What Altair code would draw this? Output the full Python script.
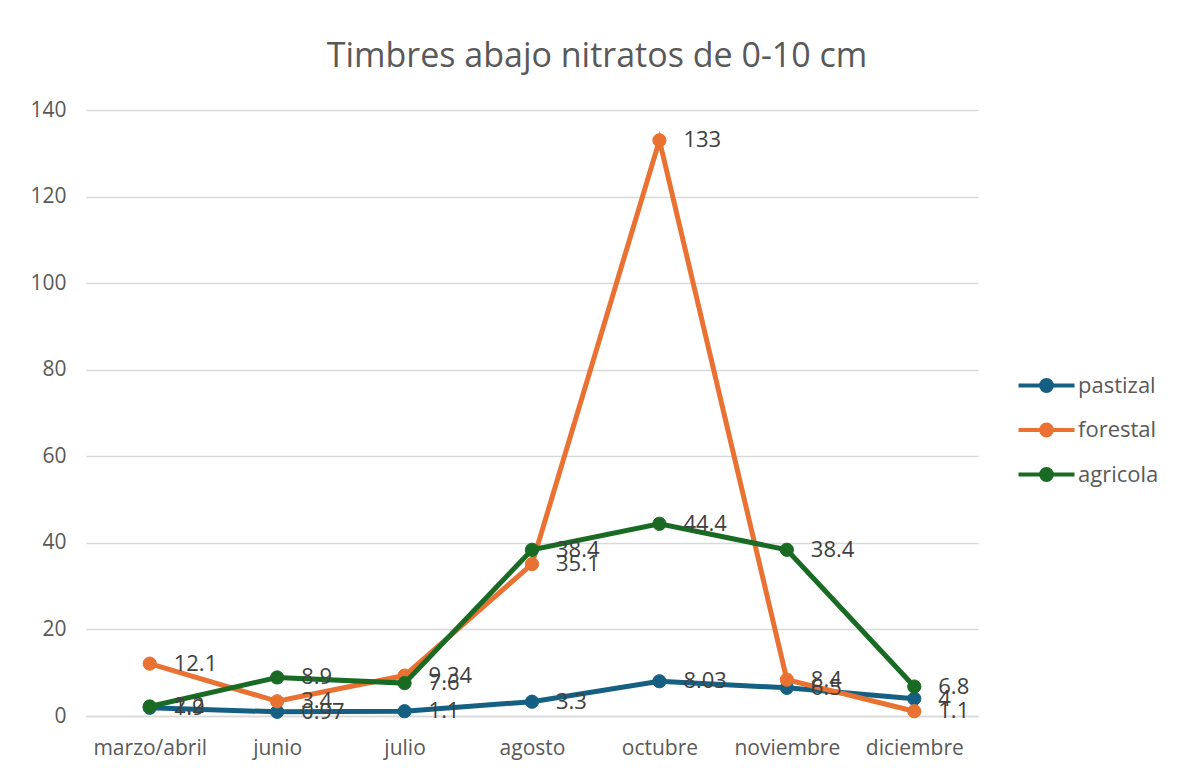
import altair as alt
import pandas as pd

meses = ["marzo/abril", "junio", "julio", "agosto", "octubre", "noviembre", "diciembre"]
series = ["pastizal", "forestal", "agricola"]
pastizal = [1.9, 0.97, 1.1, 3.3, 8.03, 6.5, 4]
forestal = [12.1, 3.4, 9.34, 35.1, 133, 8.4, 1.1]
agricola = [2.2, 8.9, 7.6, 38.4, 44.4, 38.4, 6.8]
etiquetas = {
    "pastizal": ["1.9", "0.97", "1.1", "3.3", "8.03", "6.5", "4"],
    "forestal": ["12.1", "3.4", "9.34", "35.1", "133", "8.4", "1.1"],
    "agricola": ["2.2", "8.9", "7.6", "38.4", "44.4", "38.4", "6.8"],
}
colores = ["#156082", "#E97132", "#196B24"]

rows = []
for s, vals in zip(series, [pastizal, forestal, agricola]):
    for m, v, t in zip(meses, vals, etiquetas[s]):
        rows.append({"mes": m, "serie": s, "valor": v, "etiqueta": t})
df = pd.DataFrame(rows)

FONT = "Open Sans"
TXT = "#595959"

x = alt.X("mes:N", sort=meses, title=None,
          scale=alt.Scale(type="point", padding=0.5),
          axis=alt.Axis(labelAngle=0, ticks=False, domain=True, domainColor="#d9d9d9",
                        domainWidth=1.5, labelPadding=21, labelFontSize=21,
                        labelColor=TXT, labelFont=FONT, grid=False))
y = alt.Y("valor:Q", title=None,
          scale=alt.Scale(domain=[0, 140], nice=False),
          axis=alt.Axis(values=list(range(0, 141, 20)), ticks=False, domain=False,
                        labelPadding=20, labelFontSize=21, labelColor=TXT, labelFont=FONT,
                        gridColor="#d9d9d9", gridWidth=1.5))
sc = alt.Scale(domain=series, range=colores)
leg = alt.Legend(
    title=None, orient="none", legendX=941, legendY=256, padding=0,
    symbolType="M-1.6,0L1.6,0M-0.31,0A0.31,0.31,0,1,1,0.31,0A0.31,0.31,0,1,1,-0.31,0",
    symbolSize=1225, symbolStrokeWidth=4,
    labelFontSize=22, labelColor=TXT, labelFont=FONT,
    labelOffset=12, rowPadding=11.5)

layers = []
for i, s in enumerate(series):
    base = alt.Chart(df).transform_filter(alt.datum.serie == s)
    line = base.mark_line(strokeWidth=5).encode(
        x=x, y=y, stroke=alt.Stroke("serie:N", scale=sc, legend=leg))
    pts = base.mark_point(size=175, opacity=1, filled=True, strokeWidth=1).encode(
        x=x, y=y,
        fill=alt.Fill("serie:N", scale=sc, legend=leg),
        stroke=alt.Stroke("serie:N", scale=sc, legend=leg))
    layers += [line, pts]

labels = alt.Chart(df).mark_text(align="left", baseline="middle", dx=24, fontSize=22,
                                 font=FONT, color="#404040").encode(x=x, y=y, text="etiqueta:N")
layers.append(labels)

chart = alt.layer(*layers).properties(
    width=892, height=606,
    autosize=alt.AutoSizeParams(type="none"),
    padding={"left": 78, "top": 102, "right": 190, "bottom": 50},
    title=alt.TitleParams("Timbres abajo nitratos de 0-10 cm", fontSize=34, font=FONT,
                          color=TXT, fontWeight="normal", anchor="middle", frame="group",
                          dx=65, offset=25),
).configure_view(stroke=None)

chart.save("out.html", embed_options={"renderer": "svg", "actions": False})
